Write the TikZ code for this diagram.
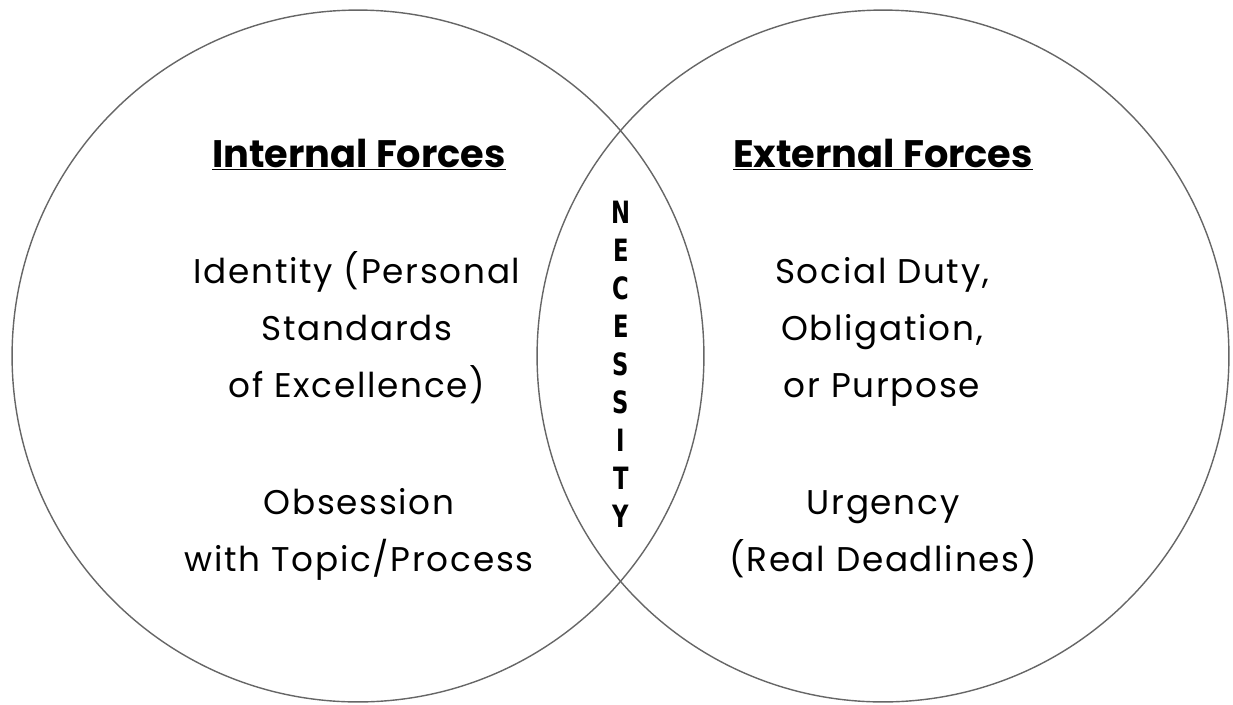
\documentclass[tikz,border=0pt]{standalone}
\usepackage{fontspec}
\setmainfont{Poppins}
\newfontfamily\bodyfont[LetterSpace=5.0]{Poppins}
\newfontfamily\narrowfont[FakeStretch=0.82]{DejaVu Sans Condensed}
\begin{document}
\begin{tikzpicture}[x=0.02cm,y=-0.02cm,
	ring/.style={draw=black!60,line width=0.8pt},
	heading/.style={anchor=base,font=\fontsize{21.8}{26}\selectfont\bfseries},
	body/.style={anchor=base,align=center,font=\bodyfont\fontsize{19.5}{32.4}\selectfont},
	letter/.style={font=\narrowfont\bfseries\fontsize{17.5}{17.5}\selectfont}]
	\useasboundingbox (0,0) rectangle (1233,704);
	% the two circles
	\draw [ring] (358,356) circle (6.92cm);
	\draw [ring] (883,356) circle (6.92cm);
	% left side
	\node [heading] (inthead) at (359,167) {\underline{Internal Forces}};
	\node [body] (identity) at (357,397) {Identity (Personal\\Standards\\of Excellence)};
	\node [body] (obsession) at (359,571) {Obsession\\with Topic/Process};
	% right side
	\node [heading] (exthead) at (883,167) {\underline{External Forces}};
	\node [body] (duty) at (882,397) {Social Duty,\\Obligation,\\or Purpose};
	\node [body] (urgency) at (883,571) {Urgency\\(Real Deadlines)};
	% overlap
	\foreach \l [count=\i] in {N,E,C,E,S,S,I,T,Y}
		\node [letter] (nec\i) at (621,174+38*\i) {\l};
\end{tikzpicture}
\end{document}
